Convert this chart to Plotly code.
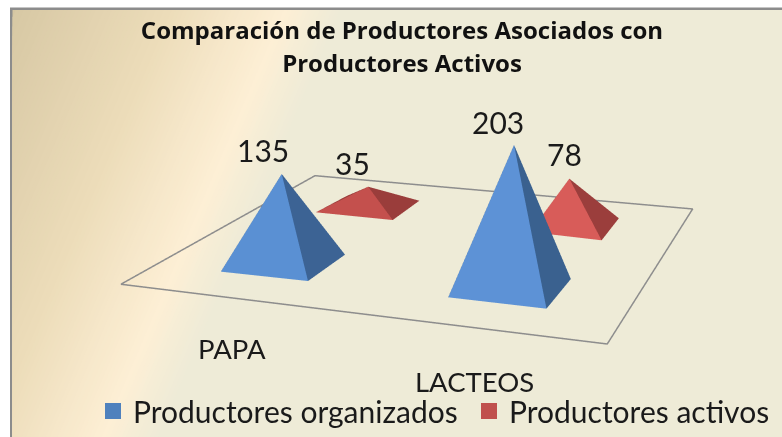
import plotly.graph_objects as go

categories = ["PAPA", "LACTEOS"]
series_names = ["Productores organizados", "Productores activos"]
organizados = [135, 203]
activos = [35, 78]

W, H = 782, 437
FONT = "Lato"
Z_SCALE = 0.00185
Z_MAX = 250

# floor footprints of the pyramids: (left, front, right) corners in scene units
FOOT = {
    (0, 0): ((-0.364, -0.411), (-0.004, -0.395), (-0.037, -0.196)),
    (0, 1): ((0.425, -0.382), (0.649, -0.375), (0.651, -0.218)),
    (1, 0): ((-0.539, 0.215), (-0.098, 0.151), (-0.143, 0.408)),
    (1, 1): ((0.441, 0.088), (0.652, 0.048), (0.652, 0.244)),
}
LEAN = {(0, 0): (-0.074, 0.138), (0, 1): (0.170, -0.302), (1, 0): (-0.038, 0.078), (1, 1): (0.0, -0.018)}
FACE = {(0, 0): ("#5a90d3", "#3c6394"), (0, 1): ("#5d92d6", "#3a618f"),
        (1, 0): ("#c4504d", "#9a3d3b"), (1, 1): ("#d85c59", "#9b3e3c")}
LABEL_SHIFT = {(0, 0): (-19, 24), (0, 1): (-16, 23), (1, 0): (-16, 24), (1, 1): (-5, 25)}
FLOOR = [(-0.646, -0.583), (0.79, -0.475), (0.829, 0.352), (-1.205, 0.926)]
CAT_POS = [(0.096, -0.735), (0.626, -0.659)]
LEGEND_COL = ["#4f81bd", "#c0504d"]
LEGEND_X = [93, 469]


def paper(x, y):
    return f"{x / W:.5f} {1 - y / H:.5f}"


def gradient_shapes():
    stops = [(0, (0xd5, 0xc6, 0xa2)), (170, (0xec, 0xdc, 0xb9)), (288, (0xfd, 0xef, 0xd5)), (342, (0xee, 0xeb, 0xd7))]
    shapes = [dict(type="rect", xref="paper", yref="paper", x0=10 / W, x1=1, y0=0, y1=1 - 7.5 / H,
                   fillcolor="#8c8c8c", line_width=0, layer="below"),
              dict(type="rect", xref="paper", yref="paper", x0=12.5 / W, x1=1, y0=0, y1=1 - 10 / H,
                   fillcolor="#d5c6a2", line_width=0, layer="below")]
    k = 0.426
    for t in range(4, 346, 4):
        for (a, ca), (b, cb) in zip(stops, stops[1:]):
            if a <= t <= b:
                f = (t - a) / (b - a)
                col = "rgb(%d,%d,%d)" % tuple(round(p + (q - p) * f) for p, q in zip(ca, cb))
                break
        else:
            col = "#eeebd7"
        xtop = max(t - k * 10, 12.5)
        xbot = t - k * H
        pts = [(xtop, 10), (W, 10), (W, H)]
        if xbot >= 12.5:
            pts += [(xbot, H)]
        else:
            pts += [(12.5, H), (12.5, (t - 12.5) / k)]
        if (t - 12.5) / k < 10:
            continue
        path = "M " + " L ".join(paper(*p) for p in pts) + " Z"
        shapes.append(dict(type="path", path=path, xref="paper", yref="paper",
                           fillcolor=col, line_width=0, layer="below"))
    return shapes


fig = go.Figure()
annotations = []
values = [organizados, activos]
for s, name in enumerate(series_names):
    for c, cat in enumerate(categories):
        v = values[s][c]
        L, F, R = FOOT[(s, c)]
        B = (L[0] + R[0] - F[0], L[1] + R[1] - F[1])
        cx, cy = (L[0] + R[0]) / 2, (L[1] + R[1]) / 2
        ax, ay = cx + LEAN[(s, c)][0], cy + LEAN[(s, c)][1]
        xs = [L[0], F[0], R[0], B[0], ax]
        ys = [L[1], F[1], R[1], B[1], ay]
        zs = [0, 0, 0, 0, v]
        light, dark = FACE[(s, c)]
        fig.add_trace(go.Mesh3d(x=xs, y=ys, z=zs, i=[0, 1, 2, 3], j=[1, 2, 3, 0], k=[4, 4, 4, 4],
                                facecolor=[light, dark, dark, dark], flatshading=True, name=name,
                                lighting=dict(ambient=1, diffuse=0, specular=0, roughness=1, fresnel=0),
                                hoverinfo="skip", showscale=False))
        dx, dy = LABEL_SHIFT[(s, c)]
        annotations.append(dict(x=ax, y=ay, z=v, text=str(v), showarrow=False, xshift=dx, yshift=dy,
                                font=dict(family=FONT, size=30, color="#1a1a1a")))

for cat, (x, y) in zip(categories, CAT_POS):
    annotations.append(dict(x=x, y=y, z=0, text=cat, showarrow=False,
                            font=dict(family=FONT, size=27.5, color="#1a1a1a")))

fig.add_trace(go.Scatter3d(x=[p[0] for p in FLOOR + FLOOR[:1]], y=[p[1] for p in FLOOR + FLOOR[:1]],
                           z=[0] * 5, mode="lines", line=dict(color="#8d8d8d", width=3),
                           hoverinfo="skip", showlegend=False))

for i, (name, col) in enumerate(zip(series_names, LEGEND_COL)):
    fig.add_trace(go.Scatter(x=[None], y=[None], mode="markers", name=name,
                             legend="legend" if i == 0 else "legend2",
                             marker=dict(symbol="square", size=16, color=col)))

hidden = dict(visible=False)
def legend_at(x):
    return dict(orientation="h", x=x / W, xanchor="left", y=1 - 411 / H, yanchor="middle",
                bgcolor="rgba(0,0,0,0)", font=dict(family=FONT, size=30, color="#1a1a1a"))

fig.update_layout(
    width=W, height=H, margin=dict(l=0, r=0, t=0, b=0), paper_bgcolor="white", plot_bgcolor="rgba(0,0,0,0)",
    shapes=gradient_shapes(),
    xaxis=hidden, yaxis=hidden,
    title=dict(text='<b><span style="font-size:24px">Comparación de Productores Asociados con<br>Productores Activos</span></b>',
               x=402 / W, xanchor="center", y=1 - 39 / H, yanchor="middle",
               font=dict(family="Open Sans", size=25.4, color="#111111")),
    legend=legend_at(LEGEND_X[0]), legend2=legend_at(LEGEND_X[1]),
    scene=dict(
        domain=dict(x=[0, 1], y=[0, 1]), bgcolor="rgba(0,0,0,0)", dragmode="orbit",
        xaxis=dict(visible=False, range=[-1.4, 1.4]),
        yaxis=dict(visible=False, range=[-1.4, 1.4]),
        zaxis=dict(visible=False, range=[-Z_MAX, Z_MAX]),
        aspectmode="manual", aspectratio=dict(x=2.8, y=2.8, z=2 * Z_MAX * Z_SCALE),
        camera=dict(eye=dict(x=1.0125, y=-1.3227, z=0.497), center=dict(x=-0.1173, y=0.1678, z=0),
                    up=dict(x=0.1863, y=0, z=1), projection=dict(type="perspective")),
        annotations=annotations,
    ),
)
fig.write_html("out.html", post_script="document.body.style.margin='0';",
               config={"displayModeBar": False})
